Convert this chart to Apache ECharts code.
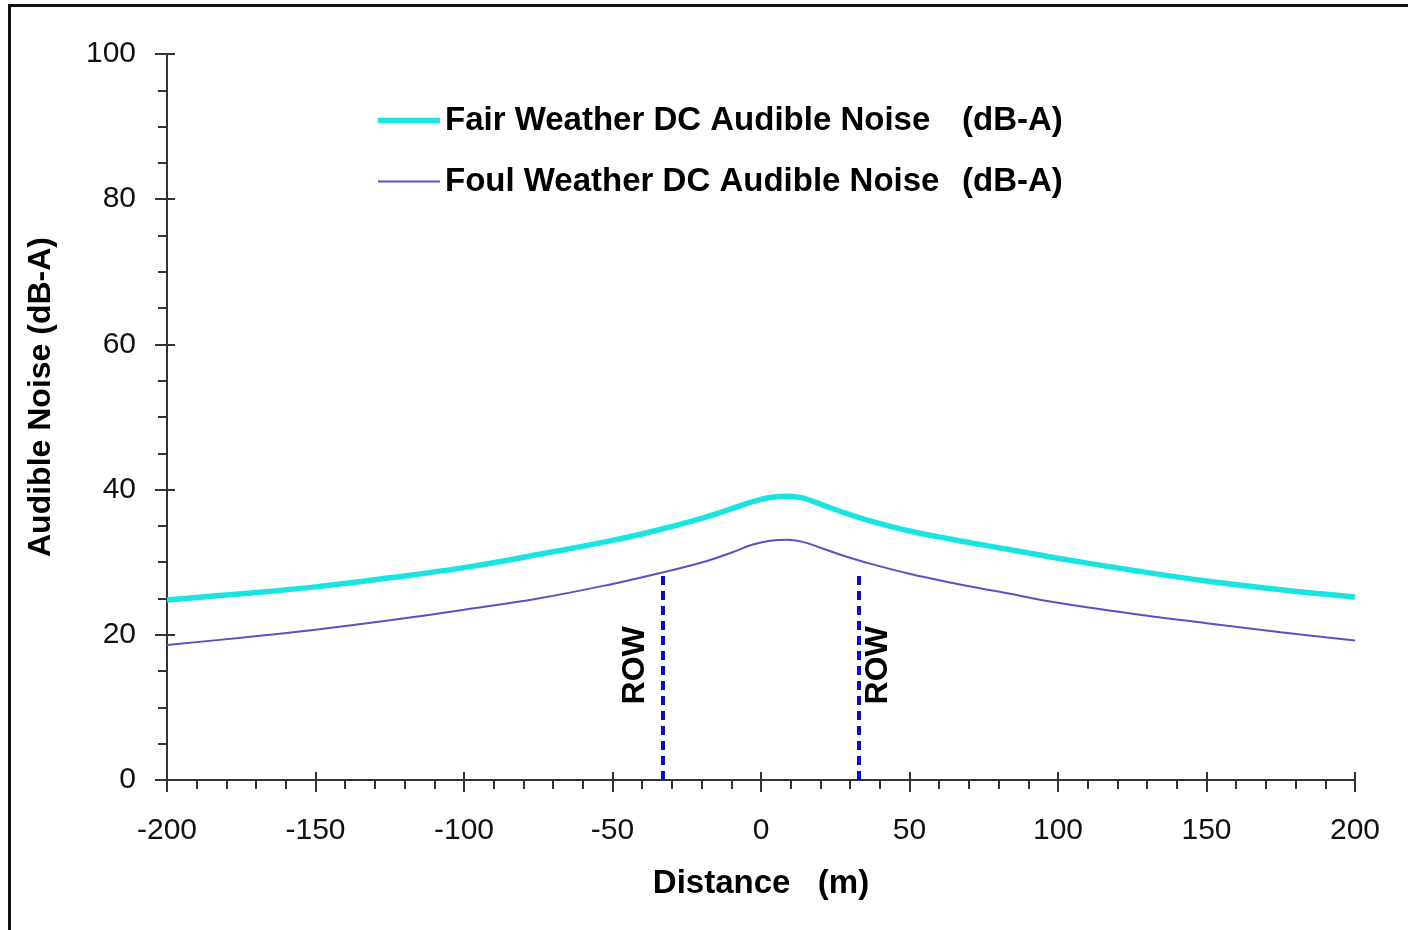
<!doctype html>
<html>
	<head>
		<meta charset="utf-8">
		<title>DC Audible Noise</title>
		<style>
			html, body { margin: 0; padding: 0; background: #fff; }
			#chart { width: 1408px; height: 930px; }
		</style>
	</head>
	<body>
		<script src="https://cdn.jsdelivr.net/npm/echarts@6/dist/echarts.min.js"></script>
		<div id="chart"></div>
		<script>
			// values
			let distance = [-200, -175, -150, -125, -100, -75, -50, -35, -20, -10, -3, 3, 9, 14, 20, 27, 35, 50, 65, 80, 100, 125, 150, 175, 200];
			let fair = [24.8, 25.65, 26.6, 27.85, 29.25, 31.05, 33.0, 34.4, 36.05, 37.35, 38.3, 38.9, 39.1, 38.85, 38.0, 36.95, 35.9, 34.3, 33.1, 32.0, 30.55, 28.9, 27.4, 26.2, 25.2];
			let foul = [18.6, 19.6, 20.7, 22.0, 23.45, 25.0, 27.0, 28.4, 29.95, 31.3, 32.4, 32.95, 33.1, 32.8, 32.0, 31.0, 30.0, 28.4, 27.1, 25.95, 24.4, 22.9, 21.6, 20.35, 19.2];

			let rowLeft = [[-33, 0], [-33, 28.8]];
			let rowRight = [[33, 0], [33, 28.8]];
			let rowLabels = [[-42.4, 15.8], [39.4, 15.8]];

			let names = ["Fair Weather DC Audible Noise", "Foul Weather DC Audible Noise"];
			let unit = "(dB-A)";

			const pair = (xs, ys) => xs.map((x, i) => [x, ys[i]]);

			let font = "Liberation Sans, Arial, sans-serif";
			let axisColor = "#333";
			let fairColor = "#1ae4e0";
			let foulColor = "#5a50c8";
			let rowColor = "#0a0acc";

			let chart = echarts.init(document.getElementById("chart"), null, { width: 1408, height: 930 });

			let xBase = { type: "value", min: -200, max: 200, interval: 50 };
			let yBase = { type: "value", min: 0, max: 100, interval: 20 };

			chart.setOption({
				animation: false,
				backgroundColor: "#fff",
				textStyle: { fontFamily: font },
				graphic: [{
					type: "rect",
					shape: { x: 9.5, y: 5.5, width: 1500, height: 1000 },
					style: { fill: "none", stroke: "#111", lineWidth: 3 },
					silent: true
				}],
				grid: { left: 167, right: 53, top: 54, bottom: 150 },
				legend: {
					// thin bar icons padded to the full item box so they are not stretched
					data: [
						{ name: names[0], icon: "path://M0,0L0,0M0,4.25h62v5.5h-62zM0,14L0,14" },
						{ name: names[1], icon: "path://M0,0L0,0M0,6h62v2h-62zM0,14L0,14" }
					],
					orient: "vertical",
					left: 378,
					top: 104,
					padding: 0,
					itemWidth: 62,
					itemHeight: 14,
					itemGap: 28,
					formatter: n => "{a|" + n + "}{b|" + unit + "}",
					textStyle: {
						fontFamily: font,
						fontSize: 33,
						fontWeight: "bold",
						color: "#000",
						rich: {
							a: { fontSize: 33, fontWeight: "bold", color: "#000", width: 517 },
							b: { fontSize: 33, fontWeight: "bold", color: "#000" }
						}
					}
				},
				xAxis: [
					Object.assign({}, xBase, {
						name: "Distance   (m)",
						nameLocation: "middle",
						nameGap: 87,
						nameTextStyle: { fontSize: 33, fontWeight: "bold", color: "#000", fontFamily: font },
						axisLine: { onZero: false, lineStyle: { color: axisColor, width: 2 } },
						axisTick: { inside: false, length: 12, lineStyle: { color: axisColor, width: 2 } },
						minorTick: { show: true, splitNumber: 5, length: 9, lineStyle: { color: axisColor, width: 2 } },
						axisLabel: { fontSize: 30, color: "#111", margin: 36, fontFamily: font },
						splitLine: { show: false }
					}),
					Object.assign({}, xBase, {
						position: "bottom",
						axisLine: { show: false, onZero: false },
						axisTick: { inside: true, length: 8, lineStyle: { color: axisColor, width: 2 } },
						axisLabel: { show: false },
						splitLine: { show: false }
					})
				],
				yAxis: [
					Object.assign({}, yBase, {
						name: "Audible Noise (dB-A)",
						nameLocation: "middle",
						nameGap: 110,
						nameRotate: 90,
						nameTextStyle: { fontSize: 32, fontWeight: "bold", color: "#000", fontFamily: font, padding: [0, 0, 0, 40] },
						axisLine: { show: true, onZero: false, lineStyle: { color: axisColor, width: 2 } },
						axisTick: { show: true, inside: false, length: 12, lineStyle: { color: axisColor, width: 2 } },
						minorTick: { show: true, splitNumber: 4, length: 9, lineStyle: { color: axisColor, width: 2 } },
						axisLabel: { fontSize: 30, color: "#111", margin: 31, fontFamily: font },
						splitLine: { show: false }
					}),
					Object.assign({}, yBase, {
						position: "left",
						axisLine: { show: false, onZero: false },
						axisTick: { show: true, inside: true, length: 8, lineStyle: { color: axisColor, width: 2 } },
						axisLabel: { show: false },
						splitLine: { show: false }
					})
				],
				series: [
					{
						name: names[0],
						type: "line",
						data: pair(distance, fair),
						symbol: "none",
						smooth: 0.4,
						z: 3,
						lineStyle: { color: fairColor, width: 5.5 },
						itemStyle: { color: fairColor }
					},
					{
						name: names[1],
						type: "line",
						data: pair(distance, foul),
						symbol: "none",
						smooth: 0.4,
						z: 3,
						lineStyle: { color: foulColor, width: 2 },
						itemStyle: { color: foulColor }
					},
					{
						name: "ROW left",
						type: "line",
						data: rowLeft,
						symbol: "none",
						silent: true,
						z: 2,
						lineStyle: { color: rowColor, width: 4, type: [9, 6] }
					},
					{
						name: "ROW right",
						type: "line",
						data: rowRight,
						symbol: "none",
						silent: true,
						z: 2,
						lineStyle: { color: rowColor, width: 4, type: [9, 6] }
					},
					{
						name: "ROW labels",
						type: "scatter",
						data: rowLabels,
						symbolSize: 0,
						silent: true,
						itemStyle: { opacity: 1 },
						label: {
							show: true,
							position: "inside",
							formatter: "ROW",
							rotate: 90,
							fontSize: 32,
							fontWeight: "bold",
							color: "#000",
							textBorderWidth: 0,
							fontFamily: font
						}
					}
				]
			});
		</script>
	</body>
</html>
